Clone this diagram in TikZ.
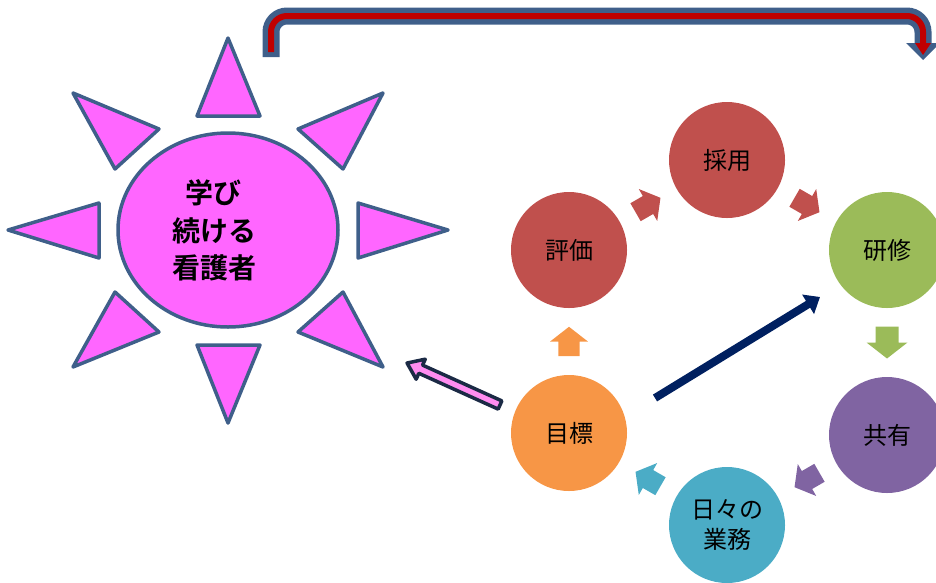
\documentclass[tikz,border=0pt]{standalone}
\usepackage{fontspec}
\newfontfamily\cjk[BoldFont={Noto Sans CJK JP Bold}]{Noto Sans CJK JP}
\usetikzlibrary{arrows.meta,calc,shapes.geometric}
\definecolor{sunpink}{HTML}{FF66FF}
\definecolor{sunline}{HTML}{3F5F8A}
\definecolor{cred}{HTML}{C0504D}
\definecolor{cgreen}{HTML}{9BBB59}
\definecolor{cpurple}{HTML}{8064A2}
\definecolor{cblue}{HTML}{4BACC6}
\definecolor{corange}{HTML}{F79646}
\definecolor{navyc}{HTML}{002060}
\definecolor{darkredc}{HTML}{C00000}
\definecolor{pinkarrow}{HTML}{FF8CF0}
\definecolor{darknavy}{HTML}{1B2A45}
\begin{document}
\begin{tikzpicture}[x=1pt,y=-1pt,
  ray/.style={draw=sunline, fill=sunpink, line width=3.5pt, line join=round},
  circ/.style={circle, minimum size=116pt, inner sep=0pt, font=\cjk\fontsize{24}{30}\selectfont, align=center, text=black},
  suntext/.style={font=\cjk\bfseries\fontsize{28}{32}\selectfont, anchor=west, inner sep=0pt},
  blk/.pic={\fill[pic actions] (-16,-11.5) -- (0,-11.5) -- (0,-20.5) -- (16,0) -- (0,20.5) -- (0,11.5) -- (-16,11.5) -- cycle;}
]
\useasboundingbox (0,0) rectangle (936,582);

% ---- top bent arrow
\coordinate (ta) at (271,57);
\coordinate (tb) at (923,44);
\draw[sunline, line width=17pt, rounded corners=16pt] (ta) -- (271,16) -- (923,16) -- (tb);
\draw[darkredc, line width=6pt, rounded corners=16pt] ($(ta)+(0,-5)$) -- (271,16) -- (923,16) -- (tb);
\fill[sunline] (906,43) -- (940,43) -- (923,60) -- cycle;
\fill[darkredc] (915,43) -- (931,43) -- (923,55) -- cycle;

% ---- sun
\draw[ray] (228,38) -- (260,116) -- (197,116) -- cycle;
\draw[ray] (228,423) -- (260,345) -- (197,345) -- cycle;
\draw[ray] (8,230) -- (99,203) -- (99,258) -- cycle;
\draw[ray] (448,230) -- (358,203) -- (358,258) -- cycle;
\draw[ray] (73,93) -- (159,129) -- (115,169) -- cycle;
\draw[ray] (383,93) -- (298,129) -- (343,169) -- cycle;
\draw[ray] (115,292) -- (159,332) -- (73,367) -- cycle;
\draw[ray] (343,292) -- (298,332) -- (383,367) -- cycle;
\node[ellipse, draw=sunline, fill=sunpink, line width=3.5pt, minimum width=220pt, minimum height=194pt, inner sep=0pt] (sun) at (228,230) {};
\node[suntext] (s1) at (185,193) {学び};
\node[suntext] (s2) at (172,231) {続ける};
\node[suntext] (s3) at (172,268) {看護者};

% ---- cycle circles
\node[circ, fill=cred] (hyouka) at (569,250) {評価};
\node[circ, fill=cred] (saiyou) at (727,160) {採用};
\node[circ, fill=cgreen] (kenshu) at (887,250) {研修};
\node[circ, fill=cpurple] (kyouyu) at (887,435) {共有};
\node[circ, fill=cblue] (gyoumu) at (727,525) {日々の\\業務};
\node[circ, fill=corange] (mokuhyou) at (569,433) {目標};

% ---- block arrows between circles
\path ($(mokuhyou)!0.5!(hyouka)$) pic[fill=corange, rotate=90, scale=0.92] {blk};
\path ($(hyouka)!0.5!(saiyou)$) pic[fill=cred, rotate=30, scale=0.9] {blk};
\path ($(saiyou)!0.5!(kenshu)$) pic[fill=cred, rotate=-30, scale=0.9] {blk};
\path ($(kenshu)!0.5!(kyouyu)$) pic[fill=cgreen, rotate=-90] {blk};
\path ($(kyouyu)!0.5!(gyoumu)$) pic[fill=cpurple, rotate=210, scale=0.9] {blk};
\path ($(gyoumu)!0.5!(mokuhyou)$) pic[fill=cblue, rotate=150, scale=0.9] {blk};

% ---- navy arrow
\coordinate (na) at ($(mokuhyou)+(86,-35)$);
\coordinate (nb) at ($(kenshu)+(-67,47)$);
\draw[navyc, line width=8pt, -{Triangle[length=14pt,width=22pt]}] (na) -- (nb);

% ---- pink outlined arrow
\coordinate (pa) at (500,405);
\coordinate (pb) at (406,363);
\begin{scope}[shift={(pa)}, rotate=155.7]
\draw[darknavy, fill=pinkarrow, line width=3.5pt, line join=round]
  (0,-4.5) -- (87,-4.5) -- (87,-11) -- (102,0) -- (87,11) -- (87,4.5) -- (0,4.5) -- cycle;
\end{scope}
\end{tikzpicture}
\end{document}
